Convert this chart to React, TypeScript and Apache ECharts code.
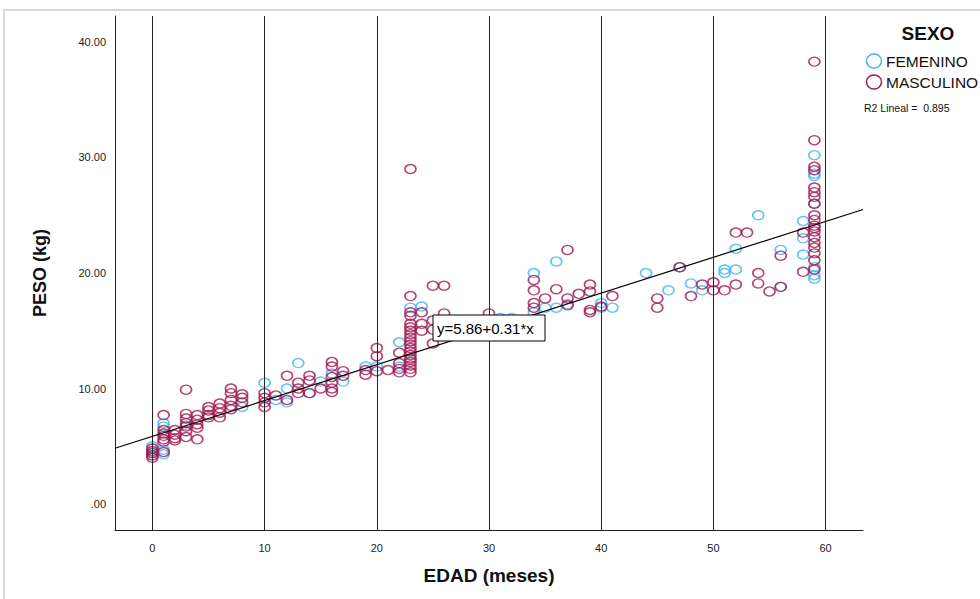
import React, { useEffect, useRef } from "react";
import * as echarts from "echarts";

// Data: [EDAD (meses), PESO (kg)]
const femenino: number[][] = [
  [0, 4.5], [0, 5.0], [1, 7.0], [1, 6.7], [1, 4.7], [1, 4.3], [3, 6.8], [8, 8.4],
  [10, 10.5], [11, 9.0], [12, 10.0], [12, 8.8], [13, 12.2], [14, 9.6], [15, 10.6],
  [16, 11.3], [17, 10.6], [19, 11.9], [20, 11.9], [22, 14.0], [22, 11.9], [23, 17.0],
  [23, 12.5], [24, 17.1], [31, 16.1], [32, 16.1], [34, 20.0], [34, 16.6], [35, 17.0],
  [36, 21.0], [36, 17.0], [37, 17.3], [40, 17.4], [40, 17.0], [41, 17.0], [44, 20.0],
  [46, 18.5], [47, 20.5], [48, 19.1], [49, 18.5], [51, 20.3], [51, 20.0], [52, 22.1],
  [52, 20.3], [54, 25.0], [56, 22.0], [56, 18.8], [58, 24.5], [58, 23.0], [58, 21.6],
  [59, 30.2], [59, 28.6], [59, 28.4], [59, 26.0], [59, 20.5], [59, 19.8], [59, 19.5],
];

const masculino: number[][] = [
  [0, 4.0], [0, 4.2], [0, 4.4], [0, 4.6], [0, 4.8],
  [1, 7.7], [1, 6.4], [1, 6.1], [1, 5.9], [1, 5.6], [1, 5.4], [1, 4.5],
  [2, 6.4], [2, 6.0], [2, 5.7], [2, 5.5],
  [3, 9.9], [3, 7.8], [3, 7.4], [3, 7.0], [3, 6.7], [3, 6.3], [3, 5.8],
  [4, 7.7], [4, 7.3], [4, 6.9], [4, 6.6], [4, 5.6],
  [5, 8.4], [5, 8.1], [5, 7.7], [5, 7.5],
  [6, 8.7], [6, 8.3], [6, 7.9], [6, 7.5],
  [7, 10.0], [7, 9.6], [7, 9.0], [7, 8.5], [7, 8.2],
  [8, 9.5], [8, 9.2], [8, 8.8],
  [10, 9.6], [10, 9.2], [10, 8.8], [10, 8.4],
  [11, 9.4], [12, 11.1], [12, 9.0], [13, 10.5], [13, 10.0], [13, 9.6],
  [14, 11.1], [14, 10.7], [14, 9.6], [15, 10.0],
  [16, 12.3], [16, 11.9], [16, 11.0], [16, 10.5], [16, 10.0], [16, 9.7],
  [17, 11.5], [17, 11.1], [19, 11.6], [19, 11.2], [20, 13.5], [20, 12.8], [20, 11.5],
  [21, 11.6], [22, 13.1], [22, 12.2], [22, 11.7], [22, 11.4],
  [23, 29.0], [23, 18.0], [23, 16.6], [23, 16.3], [23, 15.6], [23, 15.3], [23, 15.0],
  [23, 14.7], [23, 14.4], [23, 14.1], [23, 13.8], [23, 13.5], [23, 13.2], [23, 12.9],
  [23, 12.6], [23, 12.3], [23, 12.0], [23, 11.7], [23, 11.4],
  [24, 16.6], [24, 15.6], [24, 15.0], [25, 18.9], [25, 15.9], [25, 15.1], [25, 13.9],
  [26, 18.9], [26, 16.5], [30, 16.5],
  [34, 19.4], [34, 18.5], [34, 17.4], [34, 17.0], [35, 17.8], [36, 18.6],
  [37, 22.0], [37, 17.8], [37, 17.2], [38, 18.2], [39, 19.0], [39, 18.4], [39, 16.8], [39, 16.6],
  [40, 17.1], [41, 18.0], [45, 17.8], [45, 17.0], [47, 20.5], [48, 18.0], [49, 19.0],
  [50, 19.2], [50, 18.5], [51, 18.5], [52, 23.5], [52, 19.0], [53, 23.5], [54, 20.0], [54, 19.1],
  [55, 18.4], [56, 21.5], [56, 18.8], [58, 23.5], [58, 20.1],
  [59, 38.3], [59, 31.5], [59, 29.2], [59, 28.9], [59, 27.4], [59, 27.0], [59, 26.6], [59, 26.0],
  [59, 25.0], [59, 24.6], [59, 24.1], [59, 23.9], [59, 23.6], [59, 23.1], [59, 22.6], [59, 22.2],
  [59, 21.7], [59, 21.1], [59, 20.3],
];

const xTicks = [0, 10, 20, 30, 40, 50, 60];
const yTicks = [0, 10, 20, 30, 40];
const X_MIN = -3.333;
const X_MAX = 63.333;
const Y_MIN = -2.25;
const Y_MAX = 42.25;

const intercept = 5.86;
const slope = 0.31;
const r2 = 0.895;

const FEM_COLOR = "#3db5f2";
const MAS_COLOR = "#a11850";
const FONT = "Liberation Sans, Arial, sans-serif";

export default function App() {
  const ref = useRef<HTMLDivElement>(null);

  useEffect(() => {
    if (!ref.current) return;
    const chart = echarts.init(ref.current, undefined, { renderer: "svg" });
    const fitLine = [X_MIN, X_MAX].map((x) => [x, intercept + slope * x]);

    chart.setOption({
      animation: false,
      backgroundColor: "#ffffff",
      textStyle: { fontFamily: FONT },
      grid: { left: 115, top: 16, right: 117, bottom: 69 },
      xAxis: {
        type: "value",
        min: X_MIN,
        max: X_MAX,
        name: "EDAD (meses)",
        nameLocation: "middle",
        nameGap: 36,
        nameTextStyle: { fontSize: 19, fontWeight: "bold", color: "#111" },
        axisLine: { show: true, onZero: false, lineStyle: { color: "#222", width: 1 } },
        axisTick: { show: false },
        splitLine: { show: false },
        axisLabel: {
          customValues: xTicks,
          fontSize: 11,
          color: "#222",
          margin: 12,
        },
      },
      yAxis: {
        type: "value",
        min: Y_MIN,
        max: Y_MAX,
        name: "PESO (kg)",
        nameLocation: "middle",
        nameRotate: 90,
        nameGap: 66,
        nameTextStyle: { fontSize: 18, fontWeight: "bold", color: "#111" },
        axisLine: { show: true, onZero: false, lineStyle: { color: "#222", width: 1 } },
        axisTick: { show: false },
        splitLine: { show: false },
        axisLabel: {
          customValues: yTicks,
          fontSize: 11,
          color: "#222",
          margin: 9,
          formatter: (v: number) => (v === 0 ? ".00" : v.toFixed(2)),
        },
      },
      series: [
        {
          name: "grid-lines",
          type: "line",
          data: [],
          silent: true,
          markLine: {
            silent: true,
            symbol: ["none", "none"],
            label: { show: false },
            lineStyle: { color: "#222", width: 1, type: "solid" },
            data: xTicks.map((x) => ({ xAxis: x })),
          },
        },
        {
          name: "FEMENINO",
          type: "scatter",
          data: femenino,
          symbol: "circle",
          symbolSize: [11, 9],
          itemStyle: { color: "rgba(255,255,255,0)", borderColor: FEM_COLOR, borderWidth: 1.5 },
        },
        {
          name: "MASCULINO",
          type: "scatter",
          data: masculino,
          symbol: "circle",
          symbolSize: [11, 9],
          itemStyle: { color: "rgba(255,255,255,0)", borderColor: MAS_COLOR, borderWidth: 1.5 },
        },
        {
          name: "Lineal",
          type: "line",
          data: fitLine,
          symbol: "none",
          lineStyle: { color: "#000", width: 1.2 },
          z: 5,
        },
      ],
      graphic: [
        {
          type: "rect",
          shape: { x: 4, y: 10, width: 1000, height: 700 },
          style: { fill: "none", stroke: "#d9d9d9", lineWidth: 2 },
          silent: true,
          z: -1,
        },
        {
          type: "rect",
          z: 100,
          zlevel: 1,
          shape: { x: 433, y: 315, width: 112, height: 26 },
          style: { fill: "#fff", stroke: "#000", lineWidth: 1 },
        },
        {
          type: "text",
          z: 101,
          zlevel: 1,
          x: 437,
          y: 328,
          style: {
            text: `y=${intercept.toFixed(2)}+${slope.toFixed(2)}*x`,
            fontSize: 15,
            fontFamily: FONT,
            fill: "#000",
            verticalAlign: "middle",
          },
        },
        {
          type: "text",
          x: 928,
          y: 33,
          style: {
            text: "SEXO",
            fontSize: 19,
            fontWeight: "bold",
            fontFamily: FONT,
            fill: "#111",
            align: "center",
            verticalAlign: "middle",
          },
        },
        {
          type: "ellipse",
          shape: { cx: 874, cy: 61, rx: 7.5, ry: 7 },
          style: { fill: "none", stroke: FEM_COLOR, lineWidth: 1.5 },
        },
        {
          type: "text",
          x: 886,
          y: 61,
          style: {
            text: "FEMENINO",
            fontSize: 15.5,
            fontFamily: FONT,
            fill: "#111",
            verticalAlign: "middle",
          },
        },
        {
          type: "ellipse",
          shape: { cx: 874, cy: 82, rx: 7.5, ry: 7 },
          style: { fill: "none", stroke: MAS_COLOR, lineWidth: 1.5 },
        },
        {
          type: "text",
          x: 886,
          y: 82,
          style: {
            text: "MASCULINO",
            fontSize: 15.5,
            fontFamily: FONT,
            fill: "#111",
            verticalAlign: "middle",
          },
        },
        {
          type: "text",
          x: 864,
          y: 108,
          style: {
            text: `R2 Lineal =  ${r2.toFixed(3)}`,
            fontSize: 10.5,
            fontFamily: FONT,
            fill: "#111",
            verticalAlign: "middle",
          },
        },
      ],
    });

    return () => chart.dispose();
  }, []);

  return (
    <div
      ref={ref}
      style={{ position: "absolute", left: 0, top: 0, width: 980, height: 599 }}
    />
  );
}
